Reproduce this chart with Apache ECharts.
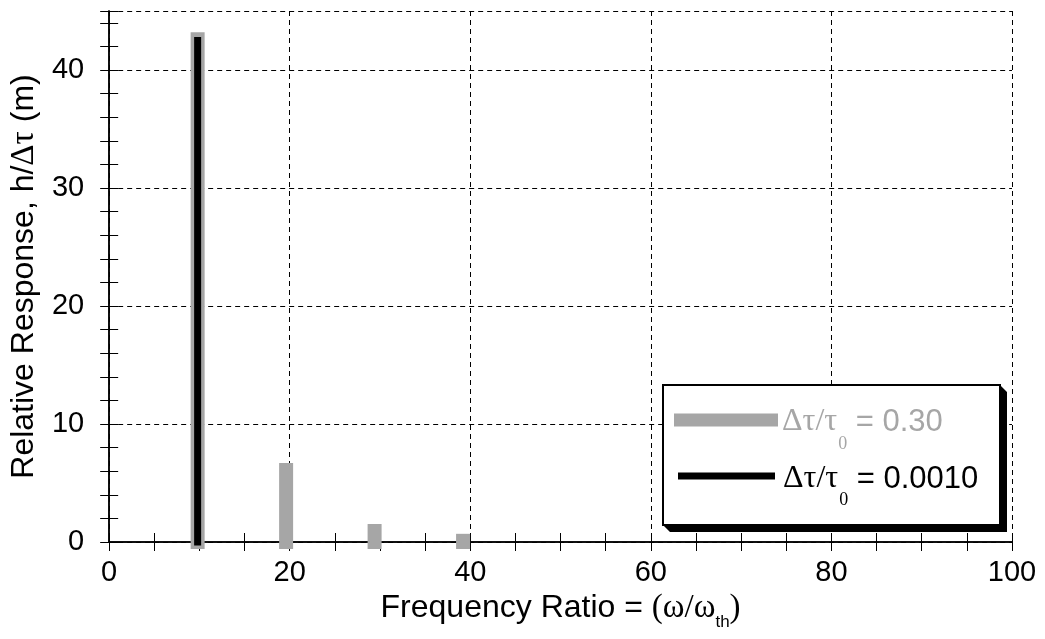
<!DOCTYPE html>
<html>
<head>
<meta charset="utf-8">
<script src="https://cdn.jsdelivr.net/npm/echarts@6/dist/echarts.min.js"></script>
<style>
html,body{margin:0;padding:0;background:#fff;}
#chart{width:1045px;height:639px;}
</style>
</head>
<body>
<div id="chart"></div>
<script>
// Frequency ratio positions of the response impulses
const freqCoarse = [9.8, 19.6, 29.4, 39.2];
// Relative response for Δτ/τ0 = 0.30
const respCoarse = [42.6, 6.1, 0.93, 0.1];
const freqFine = [9.8];
// Relative response for Δτ/τ0 = 0.0010
const respFine = [42.5];
const xTickLabels = [0, 20, 40, 60, 80, 100];
const yTickLabels = [0, 10, 20, 30, 40];
const legendLabels = ['0.30', '0.0010'];

const SANS = 'Liberation Sans';
const SERIF = 'Liberation Serif';
const GRAY = '#a6a6a6';

const coarseData = freqCoarse.map((f, i) => [f, respCoarse[i]]);
const fineData = freqFine.map((f, i) => [f, respFine[i]]);

function impulse(color, width) {
  return function (params, api) {
    const x = api.value(0), y = api.value(1);
    const p0 = api.coord([x, 0]);
    const p1 = api.coord([x, y]);
    return {
      type: 'line',
      shape: { x1: p0[0], y1: p0[1], x2: p1[0], y2: p1[1] },
      style: { stroke: color, lineWidth: width, lineCap: 'square' }
    };
  };
}

const chart = echarts.init(document.getElementById('chart'));
const axisLine = { show: true, lineStyle: { color: '#000', width: 1.5 } };
const tick = { show: true, inside: true, length: 9, lineStyle: { color: '#000', width: 1 } };
const dashed = { show: true, lineStyle: { color: '#000', width: 1, type: [5, 4] } };

chart.setOption({
  animation: false,
  backgroundColor: '#fff',
  grid: { left: 107, right: 33, top: 11, bottom: 97, containLabel: false },
  xAxis: [
    {
      type: 'value', position: 'bottom', min: 0, max: 100, interval: 5,
      axisLine: axisLine, axisTick: tick, splitLine: { show: false },
      axisLabel: {
        margin: 16, color: '#000', fontFamily: SANS, fontSize: 29,
        formatter: v => (xTickLabels.indexOf(v) >= 0 ? String(v) : '')
      },
      name: '{a|Frequency Ratio = }{s|(ω/ω}{sub|th}{s|)}',
      nameLocation: 'middle', nameGap: 43,
      nameTextStyle: {
        rich: {
          a: { fontFamily: SANS, fontSize: 32, color: '#000' },
          s: { fontFamily: SERIF, fontSize: 33, color: '#000' },
          sub: { fontFamily: SANS, fontSize: 17, color: '#000', padding: [28, 0, 0, 0] }
        }
      }
    },
    {
      type: 'value', position: 'top', min: 0, max: 100, interval: 5,
      axisLine: axisLine, axisTick: tick, axisLabel: { show: false }, splitLine: { show: false }
    },
    {
      type: 'value', position: 'bottom', min: 0, max: 100, interval: 20,
      axisLine: { show: false }, axisTick: { show: false }, axisLabel: { show: false },
      splitLine: dashed
    }
  ],
  yAxis: [
    {
      type: 'value', position: 'left', min: 0, max: 45, interval: 2,
      axisLine: axisLine, axisTick: tick, splitLine: { show: false },
      axisLabel: {
        margin: 25, color: '#000', fontFamily: SANS, fontSize: 29,
        formatter: v => (yTickLabels.indexOf(v) >= 0 ? String(v) : '')
      },
      name: '{a|Relative Response, h/}{s|Δτ}{a| (m)}',
      nameLocation: 'middle', nameGap: 60,
      nameTextStyle: {
        rich: {
          a: { fontFamily: SANS, fontSize: 32, color: '#000' },
          s: { fontFamily: SERIF, fontSize: 33, color: '#000' }
        }
      }
    },
    {
      type: 'value', position: 'right', min: 0, max: 45, interval: 2,
      axisLine: axisLine, axisTick: tick, axisLabel: { show: false }, splitLine: { show: false }
    },
    {
      type: 'value', position: 'left', min: 0, max: 45, interval: 10,
      axisLine: { show: false }, axisTick: { show: false }, axisLabel: { show: false },
      splitLine: dashed
    }
  ],
  series: [
    {
      name: 'Δτ/τ0 = 0.30', type: 'custom', xAxisIndex: 0, yAxisIndex: 0,
      renderItem: impulse(GRAY, 14), data: coarseData, clip: false, z: 3
    },
    {
      name: 'Δτ/τ0 = 0.0010', type: 'custom', xAxisIndex: 0, yAxisIndex: 0,
      renderItem: impulse('#000', 7), data: fineData, clip: false, z: 4
    }
  ],
  graphic: [
    {
      type: 'polygon', z: 10,
      shape: { points: [[663, 525], [670, 532], [1007, 532], [1007, 392], [1000, 385], [1000, 525]] },
      style: { fill: '#000' }
    },
    {
      type: 'rect', z: 11,
      shape: { x: 663, y: 385, width: 337, height: 140 },
      style: { fill: '#fff', stroke: '#000', lineWidth: 2 }
    },
    {
      type: 'line', z: 12,
      shape: { x1: 674, y1: 420, x2: 778, y2: 420 },
      style: { stroke: GRAY, lineWidth: 13 }
    },
    {
      type: 'line', z: 12,
      shape: { x1: 678, y1: 476, x2: 775, y2: 476 },
      style: { stroke: '#000', lineWidth: 7 }
    },
    {
      type: 'text', z: 12, x: 782, y: 422,
      style: {
        text: '{a|Δτ/τ}{b|0}{c| = ' + legendLabels[0] + '}',
        verticalAlign: 'middle', align: 'left',
        rich: {
          a: { fontFamily: SERIF, fontSize: 32, fill: GRAY },
          b: { fontFamily: SERIF, fontSize: 18, fill: GRAY, padding: [44, 0, 0, 1] },
          c: { fontFamily: SANS, fontSize: 31, fill: GRAY }
        }
      }
    },
    {
      type: 'text', z: 12, x: 783, y: 479,
      style: {
        text: '{a|Δτ/τ}{b|0}{c| = ' + legendLabels[1] + '}',
        verticalAlign: 'middle', align: 'left',
        rich: {
          a: { fontFamily: SERIF, fontSize: 32, fill: '#000' },
          b: { fontFamily: SERIF, fontSize: 18, fill: '#000', padding: [42, 0, 0, 1] },
          c: { fontFamily: SANS, fontSize: 31, fill: '#000' }
        }
      }
    }
  ]
});
</script>
</body>
</html>
